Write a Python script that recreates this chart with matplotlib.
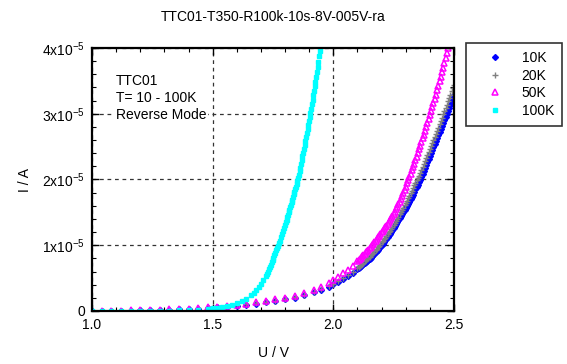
import matplotlib
matplotlib.use("Agg")
import matplotlib.pyplot as plt
import numpy as np
from matplotlib.ticker import FuncFormatter, MultipleLocator

plt.rcParams['font.family'] = ['Liberation Sans', 'DejaVu Sans']
plt.rcParams['mathtext.fontset'] = 'custom'
plt.rcParams['mathtext.rm'] = 'Liberation Sans'
plt.rcParams['mathtext.default'] = 'regular'

## 측정 데이터 (U in V, I in uA)
u_10k = [1.00, 1.04, 1.08, 1.12, 1.16, 1.20, 1.24, 1.28, 1.32, 1.36, 1.40, 1.44, 1.48,
         1.52, 1.56, 1.60, 1.64, 1.68, 1.72, 1.76, 1.80, 1.84, 1.88, 1.92, 1.95, 1.98,
         2.00, 2.02, 2.04, 2.06, 2.08,
         2.100, 2.105, 2.110, 2.115, 2.120, 2.125, 2.130, 2.135, 2.140, 2.145,
         2.150, 2.155, 2.160, 2.165, 2.170, 2.175, 2.180, 2.185, 2.190, 2.195,
         2.200, 2.205, 2.210, 2.215, 2.220, 2.225, 2.230, 2.235, 2.240, 2.245,
         2.250, 2.255, 2.260, 2.265, 2.270, 2.275, 2.280, 2.285, 2.290, 2.295,
         2.300, 2.305, 2.310, 2.315, 2.320, 2.325, 2.330, 2.335, 2.340, 2.345,
         2.350, 2.355, 2.360, 2.365, 2.370, 2.375, 2.380, 2.385, 2.390, 2.395,
         2.400, 2.405, 2.410, 2.415, 2.420, 2.425, 2.430, 2.435, 2.440, 2.445,
         2.450, 2.455, 2.460, 2.465, 2.470, 2.475, 2.480, 2.485, 2.490, 2.495, 2.500]
i_10k = [0.0, 0.0, 0.0, 0.05, 0.05, 0.1, 0.1, 0.15, 0.2, 0.25, 0.3, 0.35, 0.45,
         0.55, 0.65, 0.8, 0.95, 1.1, 1.3, 1.5, 1.75, 2.05, 2.4, 2.85, 3.25, 3.7,
         4.05, 4.45, 4.9, 5.35, 5.85,
         6.40, 6.55, 6.70, 6.85, 7.00, 7.15, 7.30, 7.45, 7.60, 7.78,
         7.95, 8.12, 8.30, 8.50, 8.70, 8.90, 9.10, 9.33, 9.56, 9.80,
         10.03, 10.26, 10.50, 10.75, 11.00, 11.25, 11.52, 11.78, 12.05, 12.33,
         12.62, 12.90, 13.20, 13.50, 13.80, 14.10, 14.40, 14.70, 15.00, 15.30,
         15.60, 15.95, 16.30, 16.65, 17.00, 17.35, 17.70, 18.10, 18.50, 18.85,
         19.20, 19.60, 20.00, 20.45, 20.90, 21.35, 21.80, 22.25, 22.70, 23.15,
         23.60, 24.05, 24.50, 24.95, 25.40, 25.85, 26.30, 26.75, 27.20, 27.65,
         28.10, 28.55, 29.00, 29.45, 29.90, 30.40, 30.90, 31.40, 31.90, 32.40, 32.90]

u_20k = [1.00, 1.04, 1.08, 1.12, 1.16, 1.20, 1.24, 1.28, 1.32, 1.36, 1.40, 1.44, 1.48,
         1.52, 1.56, 1.60, 1.64, 1.68, 1.72, 1.76, 1.80, 1.84, 1.88, 1.92, 1.95, 1.98,
         2.00, 2.02, 2.04, 2.06, 2.08,
         2.100, 2.105, 2.110, 2.115, 2.120, 2.125, 2.130, 2.135, 2.140, 2.145,
         2.150, 2.155, 2.160, 2.165, 2.170, 2.175, 2.180, 2.185, 2.190, 2.195,
         2.200, 2.205, 2.210, 2.215, 2.220, 2.225, 2.230, 2.235, 2.240, 2.245,
         2.250, 2.255, 2.260, 2.265, 2.270, 2.275, 2.280, 2.285, 2.290, 2.295,
         2.300, 2.305, 2.310, 2.315, 2.320, 2.325, 2.330, 2.335, 2.340, 2.345,
         2.350, 2.355, 2.360, 2.365, 2.370, 2.375, 2.380, 2.385, 2.390, 2.395,
         2.400, 2.405, 2.410, 2.415, 2.420, 2.425, 2.430, 2.435, 2.440, 2.445,
         2.450, 2.455, 2.460, 2.465, 2.470, 2.475, 2.480, 2.485, 2.490, 2.495, 2.500]
i_20k = [0.0, 0.0, 0.0, 0.05, 0.05, 0.1, 0.1, 0.15, 0.2, 0.25, 0.3, 0.4, 0.5,
         0.6, 0.7, 0.85, 1.0, 1.15, 1.35, 1.55, 1.8, 2.1, 2.45, 2.9, 3.3, 3.8,
         4.15, 4.55, 5.0, 5.5, 6.0,
         6.60, 6.75, 6.90, 7.05, 7.20, 7.37, 7.55, 7.72, 7.90, 8.08,
         8.27, 8.46, 8.65, 8.86, 9.07, 9.28, 9.50, 9.73, 9.96, 10.20,
         10.43, 10.66, 10.90, 11.17, 11.43, 11.70, 11.97, 12.23, 12.50, 12.80,
         13.10, 13.40, 13.72, 14.03, 14.35, 14.68, 15.02, 15.35, 15.70, 16.05,
         16.40, 16.78, 17.15, 17.52, 17.90, 18.30, 18.70, 19.10, 19.50, 19.85,
         20.20, 20.60, 21.00, 21.45, 21.90, 22.35, 22.80, 23.25, 23.70, 24.15,
         24.60, 25.05, 25.50, 25.95, 26.40, 26.90, 27.40, 27.90, 28.40, 28.90,
         29.40, 29.90, 30.40, 30.90, 31.40, 31.90, 32.40, 32.90, 33.40, 33.90, 34.40]

u_50k = [1.00, 1.04, 1.08, 1.12, 1.16, 1.20, 1.24, 1.28, 1.32, 1.36, 1.40, 1.44, 1.48,
         1.52, 1.56, 1.60, 1.64, 1.68, 1.72, 1.76, 1.80, 1.84, 1.88, 1.92, 1.95, 1.98,
         2.00, 2.02, 2.04, 2.06, 2.08,
         2.100, 2.105, 2.110, 2.115, 2.120, 2.125, 2.130, 2.135, 2.140, 2.145,
         2.150, 2.155, 2.160, 2.165, 2.170, 2.175, 2.180, 2.185, 2.190, 2.195,
         2.200, 2.205, 2.210, 2.215, 2.220, 2.225, 2.230, 2.235, 2.240, 2.245,
         2.250, 2.255, 2.260, 2.265, 2.270, 2.275, 2.280, 2.285, 2.290, 2.295,
         2.300, 2.305, 2.310, 2.315, 2.320, 2.325, 2.330, 2.335, 2.340, 2.345,
         2.350, 2.355, 2.360, 2.365, 2.370, 2.375, 2.380, 2.385, 2.390, 2.395,
         2.400, 2.405, 2.410, 2.415, 2.420, 2.425, 2.430, 2.435, 2.440, 2.445,
         2.450, 2.455, 2.460, 2.465, 2.470, 2.475, 2.480]
i_50k = [0.0, 0.0, 0.05, 0.05, 0.1, 0.1, 0.15, 0.2, 0.25, 0.3, 0.35, 0.45, 0.55,
         0.65, 0.8, 0.95, 1.1, 1.3, 1.5, 1.75, 2.0, 2.35, 2.75, 3.25, 3.7, 4.25,
         4.7, 5.2, 5.75, 6.3, 6.9,
         7.60, 7.77, 7.95, 8.12, 8.30, 8.50, 8.70, 8.90, 9.10, 9.32,
         9.55, 9.77, 10.00, 10.23, 10.46, 10.70, 10.95, 11.20, 11.45, 11.70,
         11.95, 12.20, 12.47, 12.73, 13.00, 13.28, 13.57, 13.85, 14.15, 14.46,
         14.78, 15.12, 15.46, 15.82, 16.20, 16.60, 17.02, 17.46, 17.92, 18.40,
         18.90, 19.40, 19.90, 20.40, 20.90, 21.40, 21.90, 22.42, 22.95, 23.48,
         24.02, 24.57, 25.12, 25.68, 26.24, 26.81, 27.38, 27.96, 28.55, 29.15,
         29.75, 30.36, 30.98, 31.61, 32.25, 32.90, 33.56, 34.23, 34.91, 35.60,
         36.30, 37.01, 37.73, 38.46, 39.20, 39.95, 40.71]

u_100k = [1.00, 1.04, 1.08, 1.12, 1.16, 1.20, 1.24, 1.28, 1.32, 1.36, 1.40, 1.44, 1.48,
          1.50, 1.52, 1.54, 1.56, 1.58, 1.60, 1.62, 1.64, 1.66, 1.67, 1.68, 1.69, 1.70,
          1.71,
          1.720, 1.724, 1.728, 1.732, 1.736, 1.740, 1.744, 1.748, 1.752, 1.756,
          1.760, 1.764, 1.768, 1.772, 1.776, 1.780, 1.784, 1.788, 1.792, 1.796,
          1.800, 1.803, 1.806, 1.809, 1.812, 1.815, 1.818, 1.821, 1.824, 1.827,
          1.830, 1.833, 1.836, 1.839, 1.842, 1.845, 1.848, 1.851, 1.854, 1.857,
          1.860, 1.863, 1.866, 1.869, 1.872, 1.875, 1.878, 1.881, 1.884, 1.887,
          1.890, 1.893, 1.896, 1.899, 1.902, 1.905, 1.908, 1.911, 1.914, 1.917,
          1.920, 1.923, 1.926, 1.929, 1.932, 1.935, 1.938, 1.941, 1.944, 1.947]
i_100k = [0.0, 0.0, 0.0, 0.01, 0.01, 0.02, 0.03, 0.04, 0.06, 0.09, 0.13, 0.2, 0.32,
          0.4, 0.52, 0.65, 0.8, 0.98, 1.2, 1.48, 1.85, 2.4, 2.75, 3.15, 3.6, 4.1,
          4.7,
          5.35, 5.67, 5.99, 6.33, 6.69, 7.05, 7.41, 7.77, 8.13, 8.49,
          8.85, 9.21, 9.57, 9.93, 10.30, 10.70, 11.18, 11.66, 12.14, 12.62,
          13.10, 13.49, 13.88, 14.27, 14.64, 15.00, 15.39, 15.78, 16.17, 16.56,
          16.95, 17.34, 17.73, 18.12, 18.51, 18.90, 19.32, 19.75, 20.20, 20.72,
          21.25, 21.78, 22.30, 22.90, 23.50, 24.10, 24.70, 25.30, 25.90, 26.50,
          27.10, 27.70, 28.30, 28.90, 29.50, 30.10, 30.75, 31.42, 32.10, 32.78,
          33.45, 34.15, 34.90, 35.65, 36.40, 37.15, 37.90, 38.72, 39.55, 40.40]

labels = ['10K', '20K', '50K', '100K']
title = 'TTC01-T350-R100k-10s-8V-005V-ra'
note = 'TTC01\nT= 10 - 100K\nReverse Mode'

## 그래프 작도
fig = plt.figure(figsize=(5.67, 3.64), dpi=100)
ax = fig.add_axes([92/567, 1-311/364, (454-92)/567, (311-48)/364])

series = [
    (u_10k, i_10k, dict(marker='D', ms=3.0, color='#0000ff', mec='#0000ff')),
    (u_20k, i_20k, dict(marker='+', ms=5.0, color='#808080', mew=1.0)),
    (u_50k, i_50k, dict(marker='^', ms=4.5, color='#ff00ff', mfc='none', mew=1.1)),
    (u_100k, i_100k, dict(marker='s', ms=3.4, color='#00ffff', mec='#00ffff')),
]
for (u, i, st), lab in zip(series, labels):
    ax.plot(u, np.array(i) * 1e-6, ls='none', label=lab, **st)

ax.set_xlim(1.0, 2.5)
ax.set_ylim(0, 4e-5)
ax.xaxis.set_major_locator(MultipleLocator(0.5))
ax.xaxis.set_minor_locator(MultipleLocator(0.1))
ax.yaxis.set_major_locator(MultipleLocator(1e-5))
ax.yaxis.set_minor_locator(MultipleLocator(0.2e-5))
ax.xaxis.set_major_formatter(FuncFormatter(lambda v, p: '%.1f' % v))
ax.yaxis.set_major_formatter(FuncFormatter(
    lambda v, p: '0' if abs(v) < 1e-12 else '%dx10$^{-5}$' % round(v / 1e-5)))

ax.tick_params(which='both', direction='in', top=True, right=True, labelsize=10, colors='k')
ax.tick_params(which='major', length=5, width=1, pad=5)
ax.tick_params(which='minor', length=3, width=0.8)
for s in ax.spines.values():
    s.set_linewidth(1.6)

ax.grid(True, which='major', color='#333333', ls=(0, (3, 3)), lw=0.9)
ax.set_axisbelow(True)

ax.set_xlabel('U / V', fontsize=10, labelpad=10)
ax.set_ylabel('I / A', fontsize=10, labelpad=7)
fig.text(273/567, 1-17/364, title, ha='center', va='center', fontsize=10)

ax.text(0.066, 0.90, note, transform=ax.transAxes, ha='left', va='top', fontsize=10,
        linespacing=1.25, bbox=dict(facecolor='white', edgecolor='none', pad=1))

leg = fig.legend(loc='upper left', bbox_to_anchor=(466/567, 1-43/364), fontsize=10,
                 frameon=True, fancybox=False, edgecolor='k', borderpad=0.6,
                 handlelength=3.0, handletextpad=0.4, labelspacing=0.25, borderaxespad=0)
leg.get_frame().set_linewidth(1.2)

fig.savefig('out.png', dpi=100)
